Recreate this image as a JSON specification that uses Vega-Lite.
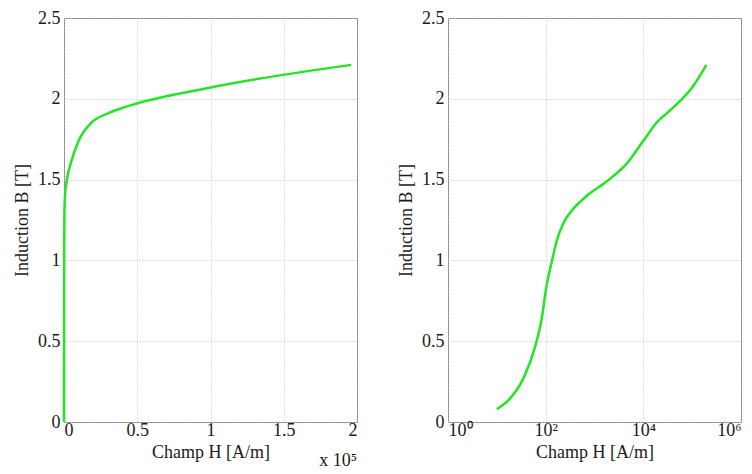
{
  "$schema": "https://vega.github.io/schema/vega-lite/v6.json",
  "background": "white",
  "padding": {"left": 13, "top": 8, "right": 0, "bottom": 0},
  "spacing": 39,
  "config": {
    "view": {"stroke": "#808080", "strokeWidth": 1},
    "axis": {
      "labelFont": "Liberation Serif",
      "titleFont": "Liberation Serif",
      "labelFontSize": 18,
      "titleFontSize": 18,
      "labelColor": "#1a1a1a",
      "titleColor": "#1a1a1a",
      "titleFontWeight": "normal",
      "domain": false,
      "ticks": false,
      "gridColor": "#c0c0c0",
      "gridDash": [1, 2],
      "gridWidth": 1
    },
    "axisX": {"labelPadding": -1, "titlePadding": 4},
    "axisY": {"labelPadding": 4, "titlePadding": 6}
  },
  "datasets": {
    "bh": [
      {"H": 0, "B": 0},
      {"H": 10, "B": 0.08},
      {"H": 18, "B": 0.14},
      {"H": 35, "B": 0.27},
      {"H": 60, "B": 0.46},
      {"H": 83, "B": 0.64},
      {"H": 105, "B": 0.85},
      {"H": 133, "B": 0.99},
      {"H": 168, "B": 1.12},
      {"H": 230, "B": 1.23},
      {"H": 370, "B": 1.32},
      {"H": 700, "B": 1.40},
      {"H": 1800, "B": 1.49},
      {"H": 4600, "B": 1.60},
      {"H": 10000, "B": 1.74},
      {"H": 19000, "B": 1.855},
      {"H": 30000, "B": 1.91},
      {"H": 42000, "B": 1.95},
      {"H": 100000, "B": 2.07},
      {"H": 196000, "B": 2.21}
    ]
  },
  "hconcat": [
    {
      "width": 293,
      "height": 404,
      "layer": [
        {
          "data": {"name": "bh"},
          "mark": {"type": "line", "color": "#22e622", "strokeWidth": 2.5, "interpolate": "monotone"},
          "encoding": {
            "x": {
              "field": "H", "type": "quantitative",
              "scale": {"domain": [0, 200000], "nice": false},
              "axis": {"values": [0, 50000, 100000, 150000, 200000], "labelExpr": "'' + datum.value / 100000", "title": "Champ H [A/m]", "grid": true}
            },
            "y": {
              "field": "B", "type": "quantitative",
              "scale": {"domain": [0, 2.5], "nice": false},
              "axis": {"values": [0, 0.5, 1, 1.5, 2, 2.5], "format": "~g", "title": "Induction B [T]", "grid": true}
            }
          }
        },
        {
          "data": {"values": [{"label": "x 10⁵"}]},
          "mark": {"type": "text", "align": "right", "baseline": "alphabetic", "dy": 44, "fontSize": 18, "font": "Liberation Serif", "color": "#1a1a1a"},
          "encoding": {
            "x": {"datum": 200000},
            "y": {"datum": 0},
            "text": {"field": "label"}
          }
        }
      ]
    },
    {
      "width": 293,
      "height": 404,
      "data": {"name": "bh"},
      "transform": [{"filter": "datum.H > 0"}],
      "mark": {"type": "line", "color": "#22e622", "strokeWidth": 2.5, "interpolate": "monotone"},
      "encoding": {
        "x": {
          "field": "H", "type": "quantitative",
          "scale": {"type": "log", "domain": [1, 1000000], "nice": false},
          "axis": {"values": [1, 100, 10000, 1000000], "labelExpr": "datum.value == 1 ? '10⁰' : datum.value == 100 ? '10²' : datum.value == 10000 ? '10⁴' : '10⁶'", "title": "Champ H [A/m]", "grid": true}
        },
        "y": {
          "field": "B", "type": "quantitative",
          "scale": {"domain": [0, 2.5], "nice": false},
          "axis": {"values": [0, 0.5, 1, 1.5, 2, 2.5], "format": "~g", "title": "Induction B [T]", "grid": true}
        }
      }
    }
  ]
}
